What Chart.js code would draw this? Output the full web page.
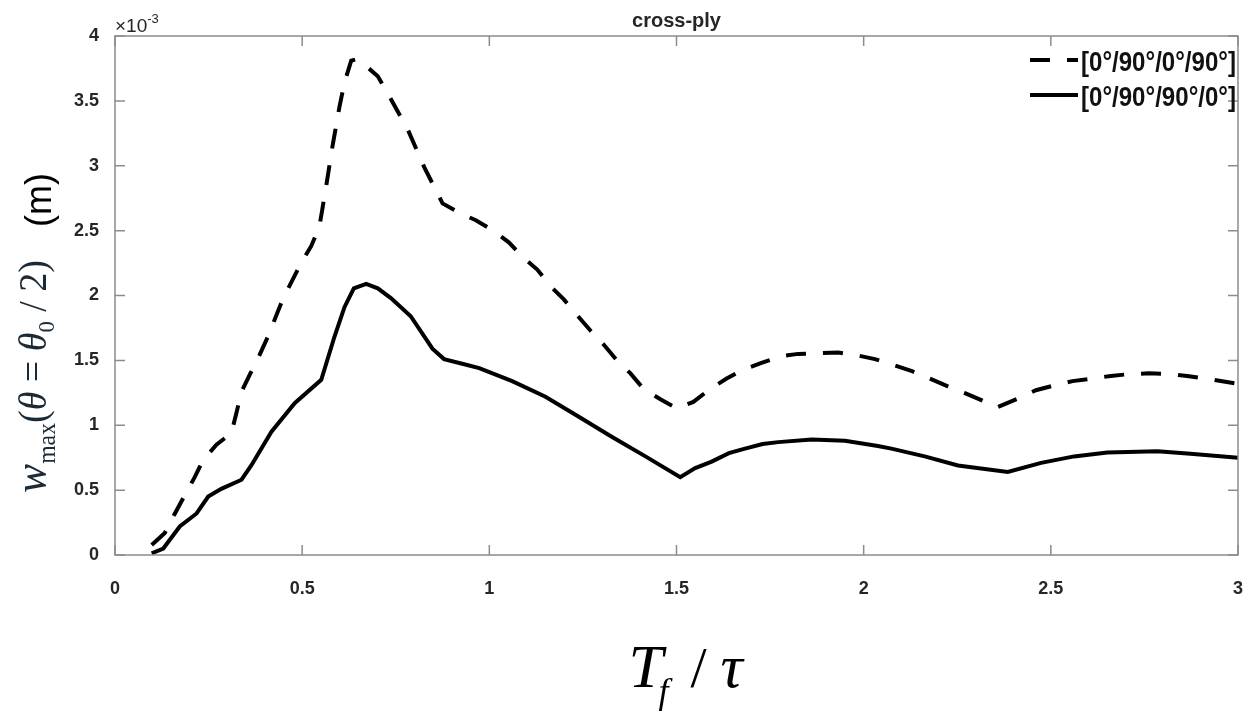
<!DOCTYPE html>
<html>
<head>
<meta charset="utf-8">
<title>cross-ply</title>
<script src="https://cdn.jsdelivr.net/npm/chart.js@4.4.1/dist/chart.umd.min.js"></script>
<style>
  html, body { margin: 0; padding: 0; background: #fff; }
  #wrap { width: 1258px; height: 714px; position: relative; }
</style>
</head>
<body>
<div id="wrap"><canvas id="grafico"></canvas></div>
<script>
// Tf/tau values and w_max (x 1e-3 m) for the two lay-ups
const xAnti = [0.098, 0.133, 0.16, 0.213, 0.235, 0.271, 0.311, 0.324, 0.338, 0.36, 0.386, 0.408, 0.448, 0.497, 0.524, 0.546, 0.564, 0.581, 0.60, 0.613, 0.631, 0.644, 0.662, 0.702, 0.728, 0.782, 0.826, 0.875, 0.924, 0.964, 1.01, 1.052, 1.088, 1.128, 1.164, 1.199, 1.234, 1.27, 1.306, 1.341, 1.377, 1.412, 1.457, 1.501, 1.545, 1.59, 1.634, 1.679, 1.727, 1.776, 1.825, 1.879, 1.932, 1.98, 2.03, 2.074, 2.127, 2.176, 2.225, 2.269, 2.318, 2.358, 2.416, 2.46, 2.513, 2.558, 2.611, 2.66, 2.713, 2.762, 2.816, 2.864, 2.913, 2.966, 3.0];
const wAnti = [0.077, 0.17, 0.32, 0.60, 0.73, 0.85, 0.94, 1.09, 1.26, 1.39, 1.54, 1.68, 1.97, 2.25, 2.38, 2.53, 2.84, 3.15, 3.46, 3.64, 3.81, 3.82, 3.79, 3.69, 3.56, 3.28, 2.99, 2.71, 2.63, 2.58, 2.50, 2.41, 2.30, 2.20, 2.07, 1.97, 1.85, 1.73, 1.62, 1.50, 1.40, 1.28, 1.20, 1.13, 1.18, 1.28, 1.36, 1.43, 1.48, 1.53, 1.55, 1.555, 1.56, 1.54, 1.51, 1.47, 1.42, 1.36, 1.30, 1.25, 1.19, 1.14, 1.21, 1.27, 1.31, 1.34, 1.36, 1.38, 1.395, 1.40, 1.395, 1.38, 1.36, 1.335, 1.32];

const xSym = [0.098, 0.129, 0.142, 0.173, 0.218, 0.249, 0.284, 0.338, 0.364, 0.418, 0.48, 0.551, 0.586, 0.613, 0.638, 0.671, 0.702, 0.737, 0.79, 0.848, 0.879, 0.933, 0.973, 1.061, 1.15, 1.239, 1.328, 1.417, 1.51, 1.55, 1.594, 1.64, 1.683, 1.73, 1.772, 1.861, 1.95, 2.038, 2.074, 2.163, 2.252, 2.385, 2.474, 2.562, 2.651, 2.785, 2.873, 3.0];
const wSym = [0.013, 0.05, 0.10, 0.22, 0.32, 0.45, 0.51, 0.58, 0.69, 0.95, 1.17, 1.35, 1.68, 1.91, 2.055, 2.09, 2.055, 1.98, 1.84, 1.59, 1.51, 1.47, 1.44, 1.34, 1.22, 1.066, 0.91, 0.76, 0.60, 0.67, 0.72, 0.785, 0.82, 0.855, 0.87, 0.89, 0.88, 0.84, 0.82, 0.76, 0.69, 0.64, 0.71, 0.76, 0.79, 0.80, 0.78, 0.75];

const rotulos = ['[0°/90°/0°/90°]', '[0°/90°/90°/0°]'];
const titulo = 'cross-ply';

const SANS = '"Liberation Sans", Arial, sans-serif';
const SERIF = '"Liberation Serif", "Times New Roman", serif';
const corTexto = '#262626';
const corEixo = '#8c8c8c';

function pares(xs, ys) {
  return xs.map((x, i) => ({ x: x, y: ys[i] }));
}

// MATLAB style tick text: 1 instead of 1.0
function formatoTick(v) {
  return Number(v.toFixed(2)).toString();
}

// box, inward ticks, legend and axis titles
const moldura = {
  id: 'moldura',
  afterDatasetsDraw(chart) {
    const ctx = chart.ctx;
    const a = chart.chartArea;
    const sx = chart.scales.x, sy = chart.scales.y;
    ctx.save();
    ctx.strokeStyle = corEixo;
    ctx.lineWidth = 1.5;
    ctx.strokeRect(a.left, a.top, a.right - a.left, a.bottom - a.top);
    ctx.beginPath();
    sx.ticks.forEach(t => {
      const p = sx.getPixelForValue(t.value);
      ctx.moveTo(p, a.bottom); ctx.lineTo(p, a.bottom - 10);
      ctx.moveTo(p, a.top); ctx.lineTo(p, a.top + 10);
    });
    sy.ticks.forEach(t => {
      const p = sy.getPixelForValue(t.value);
      ctx.moveTo(a.left, p); ctx.lineTo(a.left + 10, p);
      ctx.moveTo(a.right, p); ctx.lineTo(a.right - 10, p);
    });
    ctx.stroke();
    ctx.restore();
  },
  afterDraw(chart) {
    const ctx = chart.ctx;
    const a = chart.chartArea;
    ctx.save();
    ctx.fillStyle = corTexto;
    ctx.textBaseline = 'alphabetic';

    // title
    ctx.font = 'bold 20px ' + SANS;
    ctx.textAlign = 'center';
    ctx.fillText(titulo, (a.left + a.right) / 2, 27);

    // exponent
    ctx.textAlign = 'left';
    ctx.font = '19px ' + SANS;
    ctx.fillText('×10', a.left, 32);
    const w10 = ctx.measureText('×10').width;
    ctx.font = '13px ' + SANS;
    ctx.fillText('-3', a.left + w10, 23);

    // legend
    const ds = chart.data.datasets;
    const lx0 = a.right - 208, lx1 = a.right - 160;
    [62, 97].forEach((ly, i) => {
      ctx.save();
      ctx.strokeStyle = '#000';
      ctx.lineWidth = 4;
      ctx.setLineDash(ds[i].borderDash || []);
      ctx.beginPath();
      ctx.moveTo(lx0, ly - 2); ctx.lineTo(lx1, ly - 2);
      ctx.stroke();
      ctx.restore();
      ctx.save();
      ctx.font = 'bold 27px ' + SANS;
      const tw = ctx.measureText(ds[i].label).width;
      ctx.translate(a.right - 157, ly + 9);
      ctx.scale(155 / tw, 1);
      ctx.fillStyle = '#111';
      ctx.fillText(ds[i].label, 0, 0);
      ctx.restore();
    });

    // x axis title: T_f / tau
    ctx.fillStyle = '#000';
    const cx = (a.left + a.right) / 2;
    const x0 = cx - 48;
    ctx.font = 'italic 62px ' + SERIF;
    ctx.fillText('T', x0, 687);
    ctx.font = 'italic 36px ' + SERIF;
    ctx.fillText('f', x0 + 30, 703);
    ctx.font = '58px ' + SERIF;
    ctx.fillText('/', x0 + 62, 687);
    ctx.font = 'italic 62px ' + SERIF;
    ctx.fillText('τ', x0 + 92, 687);

    // y axis title: w_max(theta = theta_0 / 2)   (m)
    const partes = [
      { t: 'w', f: 'italic 46px ' + SERIF, dy: 0 },
      { t: 'max', f: '25px ' + SERIF, dy: 9 },
      { t: '(', f: '40px ' + SERIF, dy: 0 },
      { t: 'θ', f: 'italic 40px ' + SERIF, dy: 0 },
      { t: ' = ', f: '40px ' + SERIF, dy: 0 },
      { t: 'θ', f: 'italic 40px ' + SERIF, dy: 0 },
      { t: '0', f: '24px ' + SERIF, dy: 8 },
      { t: ' / 2)', f: '40px ' + SERIF, dy: 0 }
    ];
    let total = 0;
    partes.forEach(p => { ctx.font = p.f; p.w = ctx.measureText(p.t).width; total += p.w; });
    const comp = 233;
    ctx.save();
    ctx.translate(46, 493);
    ctx.rotate(-Math.PI / 2);
    ctx.save();
    ctx.scale(comp / total, 1);
    ctx.fillStyle = '#1c2a36';
    let px = 0;
    partes.forEach(p => { ctx.font = p.f; ctx.fillText(p.t, px, p.dy); px += p.w; });
    ctx.restore();
    ctx.font = '36px ' + SANS;
    ctx.fillStyle = '#000';
    const wm = ctx.measureText('(m)').width;
    ctx.fillText('(m)', 320 - wm, 5);
    ctx.restore();

    ctx.restore();
  }
};

const ctx = document.getElementById('grafico').getContext('2d');
new Chart(ctx, {
  type: 'line',
  data: {
    datasets: [
      {
        label: rotulos[0],
        data: pares(xAnti, wAnti),
        borderColor: '#000',
        borderWidth: 4,
        borderDash: [20, 17],
        pointRadius: 0,
        tension: 0,
        fill: false
      },
      {
        label: rotulos[1],
        data: pares(xSym, wSym),
        borderColor: '#000',
        borderWidth: 4,
        pointRadius: 0,
        tension: 0,
        fill: false
      }
    ]
  },
  options: {
    responsive: true,
    maintainAspectRatio: false,
    animation: false,
    layout: { padding: { left: 0, right: 13, top: 36, bottom: 0 } },
    scales: {
      x: {
        type: 'linear',
        min: 0,
        max: 3,
        grid: { display: false },
        border: { display: false },
        ticks: {
          stepSize: 0.5,
          padding: 15,
          color: corTexto,
          font: { family: SANS, size: 18, weight: 'bold' },
          maxRotation: 0,
          callback: formatoTick
        },
        afterFit(scale) { scale.height = 159; }
      },
      y: {
        min: 0,
        max: 4,
        grid: { display: false },
        border: { display: false },
        ticks: {
          stepSize: 0.5,
          padding: 8,
          color: corTexto,
          font: { family: SANS, size: 18, weight: 'bold' },
          callback: formatoTick
        },
        afterFit(scale) { scale.width = 115; }
      }
    },
    plugins: {
      legend: { display: false },
      tooltip: { enabled: false }
    }
  },
  plugins: [moldura]
});
</script>
</body>
</html>
